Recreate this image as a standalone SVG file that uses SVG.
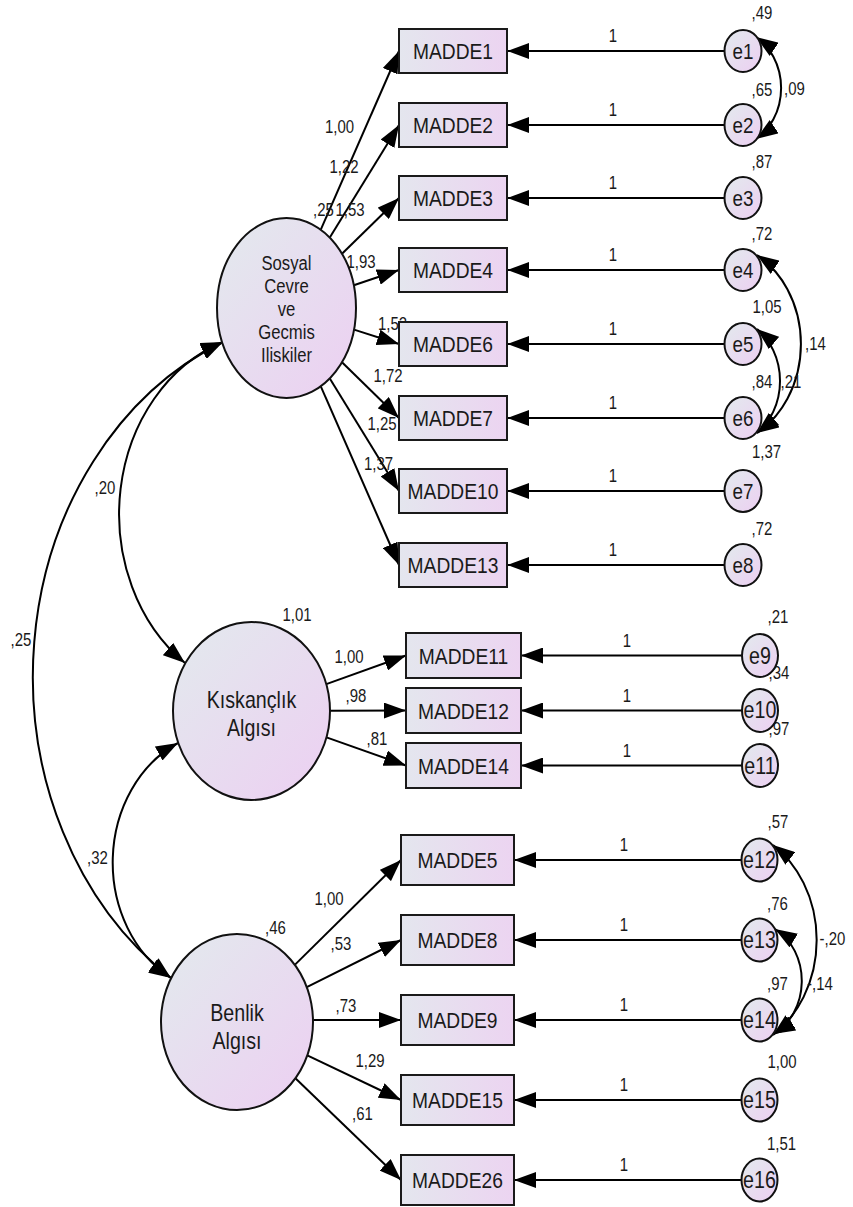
<svg xmlns="http://www.w3.org/2000/svg" width="853" height="1207" viewBox="0 0 853 1207">
<defs>
<linearGradient id="gBox" x1="0" y1="0" x2="1" y2="0"><stop offset="0" stop-color="#e4e6ee"/><stop offset="1" stop-color="#ecd4f1"/></linearGradient>
<linearGradient id="gEll" x1="0.15" y1="0.15" x2="0.85" y2="0.85"><stop offset="0" stop-color="#e4e6ee"/><stop offset="1" stop-color="#ebd3f1"/></linearGradient>
<marker id="ah" viewBox="0 0 22 16" refX="22" refY="8" markerWidth="22" markerHeight="16" markerUnits="userSpaceOnUse" orient="auto-start-reverse"><path d="M0,0 L22,8 L0,16 Z" fill="#000"/></marker>
<style>
.box{fill:url(#gBox);stroke:#1a1a1a;stroke-width:2}
.ell{fill:url(#gEll);stroke:#111;stroke-width:2}
.c line,.c path{stroke:#000;stroke-width:2;fill:none}
.c .one{marker-end:url(#ah)}
.c .two{marker-start:url(#ah);marker-end:url(#ah)}
text{font-family:"Liberation Sans",Arial,sans-serif;fill:#1a1a1a;text-anchor:middle}
.bt{font-size:22.5px}
.et{font-size:22px}
.et2{font-size:23px}
.lt{font-size:19.5px}
.lt2{font-size:23px}
.n{font-size:17.5px}
</style>
</defs>
<g id="connectors" class="c">
<line class="one" x1="320.8" y1="229.7" x2="399" y2="51"/>
<line class="one" x1="329.8" y1="237.6" x2="399" y2="125"/>
<line class="one" x1="342" y1="253.8" x2="399" y2="198"/>
<line class="one" x1="353.8" y1="285.3" x2="399" y2="270"/>
<line class="one" x1="354" y1="329.6" x2="399" y2="344"/>
<line class="one" x1="342" y1="362.2" x2="399" y2="418"/>
<line class="one" x1="329.8" y1="378.4" x2="399" y2="491"/>
<line class="one" x1="320.8" y1="386.3" x2="399" y2="565"/>
<line class="one" x1="326.3" y1="684.1" x2="406" y2="655.5"/>
<line class="one" x1="330" y1="710.8" x2="406" y2="710.5"/>
<line class="one" x1="326.5" y1="737.4" x2="406" y2="765.5"/>
<line class="one" x1="294.8" y1="964.9" x2="401" y2="860"/>
<line class="one" x1="306.8" y1="987.1" x2="401" y2="940"/>
<line class="one" x1="313" y1="1020" x2="401" y2="1020"/>
<line class="one" x1="307.3" y1="1055.4" x2="401" y2="1100"/>
<line class="one" x1="295.4" y1="1078.3" x2="401" y2="1180"/>
<line class="one" x1="724.5" y1="51" x2="507" y2="51"/>
<line class="one" x1="724.5" y1="125" x2="507" y2="125"/>
<line class="one" x1="724.5" y1="198" x2="507" y2="198"/>
<line class="one" x1="724.5" y1="270" x2="507" y2="270"/>
<line class="one" x1="724.5" y1="344" x2="507" y2="344"/>
<line class="one" x1="724.5" y1="418" x2="507" y2="418"/>
<line class="one" x1="724.5" y1="491" x2="507" y2="491"/>
<line class="one" x1="724.5" y1="565" x2="507" y2="565"/>
<line class="one" x1="742" y1="655.5" x2="521" y2="655.5"/>
<line class="one" x1="742" y1="710.5" x2="521" y2="710.5"/>
<line class="one" x1="742" y1="765.5" x2="521" y2="765.5"/>
<line class="one" x1="741.5" y1="860" x2="514" y2="860"/>
<line class="one" x1="741.5" y1="940" x2="514" y2="940"/>
<line class="one" x1="741.5" y1="1020" x2="514" y2="1020"/>
<line class="one" x1="741.5" y1="1100" x2="514" y2="1100"/>
<line class="one" x1="741.5" y1="1180" x2="514" y2="1180"/>
<path class="two" d="M223,342 A156,182.5 0 0 0 185,663"/>
<path class="two" d="M223,342 A310,362.5 0 0 0 171,978"/>
<path class="two" d="M178,743 A112.7,131.8 0 0 0 171,978"/>
<path class="two" d="M756,37 A50.5,59 0 0 1 756,139"/>
<path class="two" d="M757,255 A87.9,102.8 0 0 1 757,433"/>
<path class="two" d="M757,329 A54.5,63.7 0 0 1 757,433"/>
<path class="two" d="M773,845 A97.4,113.9 0 0 1 773,1035"/>
<path class="two" d="M775,929 A50.2,58.7 0 0 1 773,1034"/>
</g>
<g id="labels">
<text class="n" transform="translate(339.5,133) scale(.855,1)">1,00</text>
<text class="n" transform="translate(344,173) scale(.855,1)">1,22</text>
<text class="n" transform="translate(323.5,216) scale(.855,1)">,25</text>
<text class="n" transform="translate(350,216) scale(.855,1)">1,53</text>
<text class="n" transform="translate(361,268) scale(.855,1)">1,93</text>
<text class="n" transform="translate(392.5,330) scale(.855,1)">1,52</text>
<text class="n" transform="translate(388,382) scale(.855,1)">1,72</text>
<text class="n" transform="translate(382,430) scale(.855,1)">1,25</text>
<text class="n" transform="translate(378.5,470) scale(.855,1)">1,37</text>
<text class="n" transform="translate(762,19) scale(.855,1)">,49</text>
<text class="n" transform="translate(762,96) scale(.855,1)">,65</text>
<text class="n" transform="translate(794.5,95) scale(.855,1)">,09</text>
<text class="n" transform="translate(762,168) scale(.855,1)">,87</text>
<text class="n" transform="translate(762,240) scale(.855,1)">,72</text>
<text class="n" transform="translate(767,313) scale(.855,1)">1,05</text>
<text class="n" transform="translate(815.5,350) scale(.855,1)">,14</text>
<text class="n" transform="translate(762,388) scale(.855,1)">,84</text>
<text class="n" transform="translate(791,388) scale(.855,1)">,21</text>
<text class="n" transform="translate(766.5,458) scale(.855,1)">1,37</text>
<text class="n" transform="translate(762,535) scale(.855,1)">,72</text>
<text class="n" transform="translate(297,621) scale(.855,1)">1,01</text>
<text class="n" transform="translate(349,663) scale(.855,1)">1,00</text>
<text class="n" transform="translate(356,702) scale(.855,1)">,98</text>
<text class="n" transform="translate(377,745) scale(.855,1)">,81</text>
<text class="n" transform="translate(778,623) scale(.855,1)">,21</text>
<text class="n" transform="translate(779,679) scale(.855,1)">,34</text>
<text class="n" transform="translate(779,735) scale(.855,1)">,97</text>
<text class="n" transform="translate(275.5,934) scale(.855,1)">,46</text>
<text class="n" transform="translate(329,905) scale(.855,1)">1,00</text>
<text class="n" transform="translate(341,950) scale(.855,1)">,53</text>
<text class="n" transform="translate(346,1012) scale(.855,1)">,73</text>
<text class="n" transform="translate(370,1067) scale(.855,1)">1,29</text>
<text class="n" transform="translate(362.5,1120) scale(.855,1)">,61</text>
<text class="n" transform="translate(778,828) scale(.855,1)">,57</text>
<text class="n" transform="translate(777.5,910) scale(.855,1)">,76</text>
<text class="n" transform="translate(777.5,990) scale(.855,1)">,97</text>
<text class="n" transform="translate(782,1068) scale(.855,1)">1,00</text>
<text class="n" transform="translate(781.5,1150) scale(.855,1)">1,51</text>
<text class="n" transform="translate(832.5,945) scale(.855,1)">-,20</text>
<text class="n" transform="translate(820,990) scale(.855,1)">-,14</text>
<text class="n" transform="translate(105,494) scale(.855,1)">,20</text>
<text class="n" transform="translate(21,646) scale(.855,1)">,25</text>
<text class="n" transform="translate(97.5,864) scale(.855,1)">,32</text>
<text class="n" transform="translate(613,42) scale(.855,1)">1</text>
<text class="n" transform="translate(613,116) scale(.855,1)">1</text>
<text class="n" transform="translate(613,189) scale(.855,1)">1</text>
<text class="n" transform="translate(613,261) scale(.855,1)">1</text>
<text class="n" transform="translate(613,335) scale(.855,1)">1</text>
<text class="n" transform="translate(613,409) scale(.855,1)">1</text>
<text class="n" transform="translate(613,482) scale(.855,1)">1</text>
<text class="n" transform="translate(613,556) scale(.855,1)">1</text>
<text class="n" transform="translate(627,646.5) scale(.855,1)">1</text>
<text class="n" transform="translate(627,701.5) scale(.855,1)">1</text>
<text class="n" transform="translate(627,756.5) scale(.855,1)">1</text>
<text class="n" transform="translate(624,851) scale(.855,1)">1</text>
<text class="n" transform="translate(624,931) scale(.855,1)">1</text>
<text class="n" transform="translate(624,1011) scale(.855,1)">1</text>
<text class="n" transform="translate(624,1091) scale(.855,1)">1</text>
<text class="n" transform="translate(624,1171) scale(.855,1)">1</text>
</g>
<g id="sosyal"><ellipse class="ell" cx="286.5" cy="308" rx="69.5" ry="90"/>
<text class="lt" transform="translate(286.5,270) scale(.855,1)">Sosyal</text>
<text class="lt" transform="translate(286.5,292.5) scale(.855,1)">Cevre</text>
<text class="lt" transform="translate(286.5,315.5) scale(.855,1)">ve</text>
<text class="lt" transform="translate(286.5,338.5) scale(.855,1)">Gecmis</text>
<text class="lt" transform="translate(286.5,361.5) scale(.855,1)">Iliskiler</text></g>
<g id="kiskanclik"><ellipse class="ell" cx="251.5" cy="711" rx="78.5" ry="89"/>
<text class="lt2" transform="translate(251.5,708) scale(.855,1)">Kıskançlık</text>
<text class="lt2" transform="translate(251.5,736) scale(.855,1)">Algısı</text></g>
<g id="benlik"><ellipse class="ell" cx="237" cy="1022" rx="76" ry="88"/>
<text class="lt2" transform="translate(237,1021) scale(.855,1)">Benlik</text>
<text class="lt2" transform="translate(237,1049) scale(.855,1)">Algısı</text></g>
<g id="madde1"><rect class="box" x="399" y="29" width="108" height="44"/><text class="bt" transform="translate(453,59) scale(.855,1)">MADDE1</text></g>
<g id="madde2"><rect class="box" x="399" y="103" width="108" height="44"/><text class="bt" transform="translate(453,133) scale(.855,1)">MADDE2</text></g>
<g id="madde3"><rect class="box" x="399" y="176" width="108" height="44"/><text class="bt" transform="translate(453,206) scale(.855,1)">MADDE3</text></g>
<g id="madde4"><rect class="box" x="399" y="248" width="108" height="44"/><text class="bt" transform="translate(453,278) scale(.855,1)">MADDE4</text></g>
<g id="madde6"><rect class="box" x="399" y="322" width="108" height="44"/><text class="bt" transform="translate(453,352) scale(.855,1)">MADDE6</text></g>
<g id="madde7"><rect class="box" x="399" y="396" width="108" height="44"/><text class="bt" transform="translate(453,426) scale(.855,1)">MADDE7</text></g>
<g id="madde10"><rect class="box" x="399" y="469" width="108" height="44"/><text class="bt" transform="translate(453,499) scale(.855,1)">MADDE10</text></g>
<g id="madde13"><rect class="box" x="399" y="543" width="108" height="44"/><text class="bt" transform="translate(453,573) scale(.855,1)">MADDE13</text></g>
<g id="madde11"><rect class="box" x="406" y="633" width="115" height="45"/><text class="bt" transform="translate(463.5,663.5) scale(.855,1)">MADDE11</text></g>
<g id="madde12"><rect class="box" x="406" y="688" width="115" height="45"/><text class="bt" transform="translate(463.5,718.5) scale(.855,1)">MADDE12</text></g>
<g id="madde14"><rect class="box" x="406" y="743" width="115" height="45"/><text class="bt" transform="translate(463.5,773.5) scale(.855,1)">MADDE14</text></g>
<g id="madde5"><rect class="box" x="401" y="835" width="113" height="50"/><text class="bt" transform="translate(457.5,868) scale(.855,1)">MADDE5</text></g>
<g id="madde8"><rect class="box" x="401" y="915" width="113" height="50"/><text class="bt" transform="translate(457.5,948) scale(.855,1)">MADDE8</text></g>
<g id="madde9"><rect class="box" x="401" y="995" width="113" height="50"/><text class="bt" transform="translate(457.5,1028) scale(.855,1)">MADDE9</text></g>
<g id="madde15"><rect class="box" x="401" y="1075" width="113" height="50"/><text class="bt" transform="translate(457.5,1108) scale(.855,1)">MADDE15</text></g>
<g id="madde26"><rect class="box" x="401" y="1155" width="113" height="50"/><text class="bt" transform="translate(457.5,1188) scale(.855,1)">MADDE26</text></g>
<g id="e1"><ellipse class="ell" cx="743" cy="51" rx="18.5" ry="21"/><text class="et" transform="translate(743,59) scale(.855,1)">e1</text></g>
<g id="e2"><ellipse class="ell" cx="743" cy="125" rx="18.5" ry="21"/><text class="et" transform="translate(743,133) scale(.855,1)">e2</text></g>
<g id="e3"><ellipse class="ell" cx="743" cy="198" rx="18.5" ry="21"/><text class="et" transform="translate(743,206) scale(.855,1)">e3</text></g>
<g id="e4"><ellipse class="ell" cx="743" cy="270" rx="18.5" ry="21"/><text class="et" transform="translate(743,278) scale(.855,1)">e4</text></g>
<g id="e5"><ellipse class="ell" cx="743" cy="344" rx="18.5" ry="21"/><text class="et" transform="translate(743,352) scale(.855,1)">e5</text></g>
<g id="e6"><ellipse class="ell" cx="743" cy="418" rx="18.5" ry="21"/><text class="et" transform="translate(743,426) scale(.855,1)">e6</text></g>
<g id="e7"><ellipse class="ell" cx="743" cy="491" rx="18.5" ry="21"/><text class="et" transform="translate(743,499) scale(.855,1)">e7</text></g>
<g id="e8"><ellipse class="ell" cx="743" cy="565" rx="18.5" ry="21"/><text class="et" transform="translate(743,573) scale(.855,1)">e8</text></g>
<g id="e9"><ellipse class="ell" cx="760" cy="655.5" rx="18" ry="21.5"/><text class="et2" transform="translate(760,663.5) scale(.855,1)">e9</text></g>
<g id="e10"><ellipse class="ell" cx="760" cy="710.5" rx="18" ry="21.5"/><text class="et2" transform="translate(760,718) scale(.855,1)">e10</text></g>
<g id="e11"><ellipse class="ell" cx="760" cy="765.5" rx="18" ry="21.5"/><text class="et2" transform="translate(760,773.5) scale(.855,1)">e11</text></g>
<g id="e12"><ellipse class="ell" cx="759.5" cy="860" rx="18" ry="21.5"/><text class="et2" transform="translate(759.5,868) scale(.855,1)">e12</text></g>
<g id="e13"><ellipse class="ell" cx="759.5" cy="940" rx="18" ry="21.5"/><text class="et2" transform="translate(759.5,948) scale(.855,1)">e13</text></g>
<g id="e14"><ellipse class="ell" cx="759.5" cy="1020" rx="18" ry="21.5"/><text class="et2" transform="translate(759.5,1028) scale(.855,1)">e14</text></g>
<g id="e15"><ellipse class="ell" cx="759.5" cy="1100" rx="18" ry="21.5"/><text class="et2" transform="translate(759.5,1108) scale(.855,1)">e15</text></g>
<g id="e16"><ellipse class="ell" cx="759.5" cy="1180" rx="18" ry="21.5"/><text class="et2" transform="translate(759.5,1188) scale(.855,1)">e16</text></g>
</svg>
